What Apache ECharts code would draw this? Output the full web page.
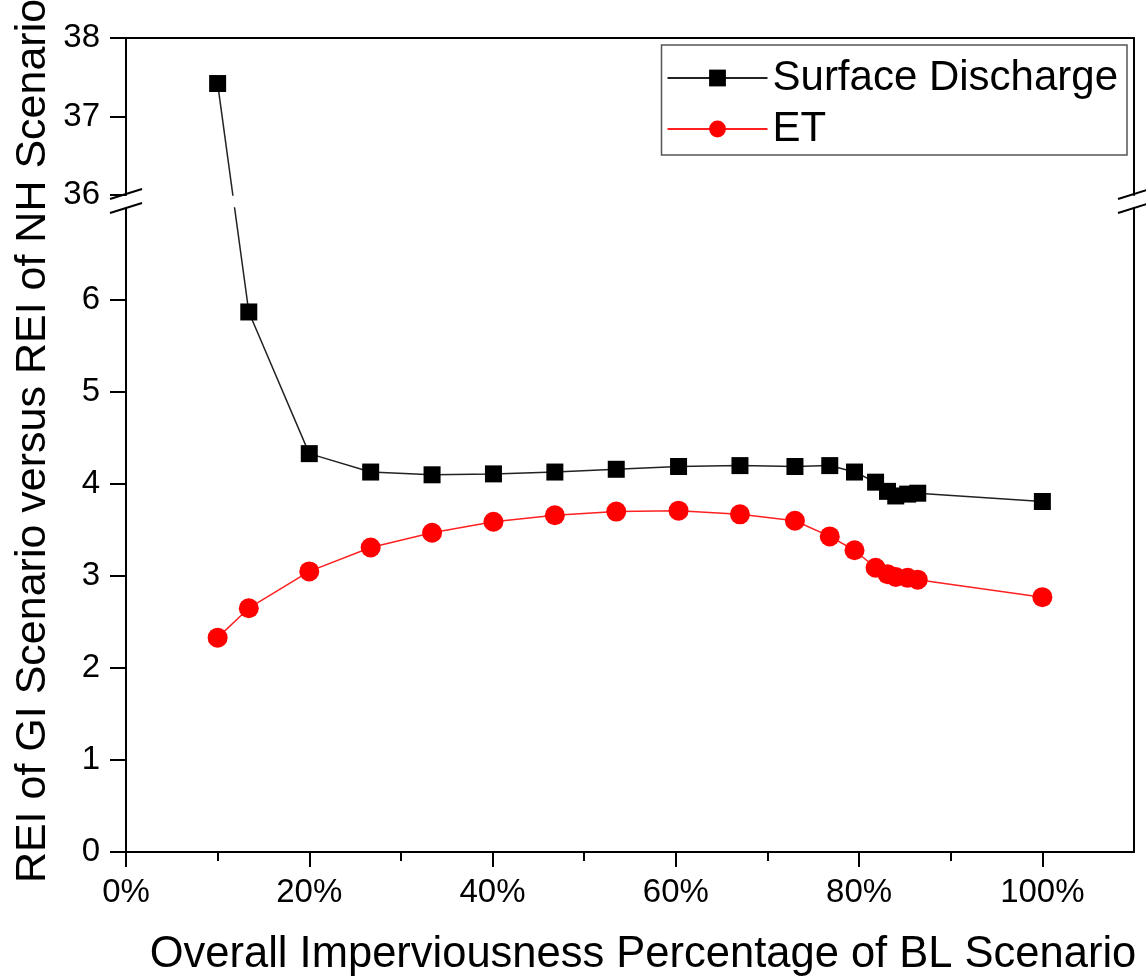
<!DOCTYPE html>
<html>
<head>
<meta charset="utf-8">
<script src="https://cdn.jsdelivr.net/npm/echarts@6/dist/echarts.min.js"></script>
<style>
  html, body { margin: 0; background: #fff; }
  #chart { width: 1146px; height: 979px; }
</style>
</head>
<body>
<div id="chart"></div>
<script>
// 数据
const xPct = [10, 13.4, 20, 26.7, 33.4, 40.1, 46.8, 53.5, 60.3, 67, 73, 76.8, 79.5, 81.8, 83.1, 84, 85.3, 86.4, 100];
const surfaceDischarge = [37.42, 5.87, 4.33, 4.13, 4.10, 4.11, 4.13, 4.16, 4.19, 4.20, 4.19, 4.20, 4.13, 4.02, 3.92, 3.87, 3.89, 3.90, 3.81];
const et = [2.33, 2.65, 3.05, 3.31, 3.47, 3.59, 3.66, 3.70, 3.71, 3.67, 3.60, 3.43, 3.28, 3.09, 3.02, 2.99, 2.98, 2.96, 2.77];

// 刻度
const xTicks = [0, 20, 40, 60, 80, 100];
const xMinorTicks = [10, 30, 50, 70, 90];
const yUpperTicks = [36, 37, 38];
const yLowerTicks = [0, 1, 2, 3, 4, 5, 6];

// 断轴范围
const breakLow = 7;
const breakHigh = 36;

const FONT = 'Arial, "Liberation Sans", sans-serif';

// 布局
const gLeft = 126, gRight = 12;
const upTop = 38, upHeight = 157;
const lowTop = 208, lowBottom = 127;
const W = 1146;

var myChart = echarts.init(document.getElementById('chart'));

// 断轴上下两段分开
const sdHigh = [], sdLow = [];
xPct.forEach((x, i) => {
    const v = surfaceDischarge[i];
    (v >= breakHigh ? sdHigh : sdLow).push([x, v]);
});
const etData = xPct.map((x, i) => [x, et[i]]);

function frameAxis(extra) {
    return Object.assign({
        type: 'value',
        axisLine: { show: true, onZero: false, lineStyle: { color: '#000', width: 2 } },
        axisTick: { show: false },
        axisLabel: { show: false },
        splitLine: { show: false }
    }, extra);
}

// 断轴符号
function breakMark(x, y) {
    return {
        type: 'line',
        shape: { x1: x - 16, y1: y + 5, x2: x + 16, y2: y - 5 },
        style: { stroke: '#000', lineWidth: 2 },
        silent: true
    };
}

const labelStyle = { fontSize: 33, color: '#000', fontFamily: FONT };

const option = {
    backgroundColor: '#fff',
    animation: false,
    textStyle: { fontFamily: FONT },
    grid: [
        { left: gLeft, right: gRight, top: upTop, height: upHeight },
        { left: gLeft, right: gRight, top: lowTop, bottom: lowBottom }
    ],
    legend: {
        data: ['Surface Discharge', 'ET'],
        orient: 'vertical',
        right: 19,
        top: 45,
        itemWidth: 100,
        itemHeight: 21,
        itemGap: 9,
        padding: [12, 9, 5, 5],
        borderColor: '#555',
        borderWidth: 1.5,
        textStyle: { fontSize: 42, color: '#000', fontFamily: FONT }
    },
    xAxis: [
        // 上段顶边框
        frameAxis({ gridIndex: 0, position: 'top', min: 0, max: 110 }),
        // 下段主刻度
        {
            type: 'value', gridIndex: 1, position: 'bottom', min: 0, max: 110,
            axisLine: { show: true, onZero: false, lineStyle: { color: '#000', width: 2 } },
            axisTick: { show: true, length: 15, customValues: xTicks, lineStyle: { color: '#000', width: 2 } },
            axisLabel: { customValues: xTicks, formatter: '{value}%', margin: 24, ...labelStyle },
            splitLine: { show: false }
        },
        // 次刻度
        {
            type: 'value', gridIndex: 1, position: 'bottom', min: 0, max: 110,
            axisLine: { show: false, onZero: false },
            axisTick: { show: true, length: 9, customValues: xMinorTicks, lineStyle: { color: '#000', width: 2 } },
            axisLabel: { show: false },
            splitLine: { show: false }
        }
    ],
    yAxis: [
        {
            type: 'value', gridIndex: 0, position: 'left', min: breakHigh, max: 38,
            axisLine: { show: true, onZero: false, lineStyle: { color: '#000', width: 2 } },
            axisTick: { show: true, length: 16, customValues: yUpperTicks, lineStyle: { color: '#000', width: 2 } },
            axisLabel: { customValues: yUpperTicks, margin: 26, ...labelStyle },
            splitLine: { show: false }
        },
        frameAxis({ gridIndex: 0, position: 'right', min: breakHigh, max: 38 }),
        {
            type: 'value', gridIndex: 1, position: 'left', min: 0, max: breakLow,
            axisLine: { show: true, onZero: false, lineStyle: { color: '#000', width: 2 } },
            axisTick: { show: true, length: 16, customValues: yLowerTicks, lineStyle: { color: '#000', width: 2 } },
            axisLabel: { customValues: yLowerTicks, margin: 26, ...labelStyle },
            splitLine: { show: false }
        },
        frameAxis({ gridIndex: 1, position: 'right', min: 0, max: breakLow })
    ],
    graphic: [
        breakMark(gLeft, upTop + upHeight - 1),
        breakMark(gLeft, lowTop),
        breakMark(W - gRight, upTop + upHeight - 1),
        breakMark(W - gRight, lowTop),
        {
            type: 'text', x: 33, y: 441, rotation: Math.PI / 2, silent: true,
            style: {
                text: 'REI of GI Scenario versus REI of NH Scenario',
                font: '43px ' + FONT, fill: '#000',
                textAlign: 'center', textVerticalAlign: 'middle'
            }
        },
        {
            type: 'text', x: 643, y: 955, silent: true,
            style: {
                text: 'Overall Imperviousness Percentage of BL Scenario',
                font: '43.5px ' + FONT, fill: '#000',
                textAlign: 'center', textVerticalAlign: 'middle'
            }
        }
    ],
    series: [
        {
            name: 'Surface Discharge', type: 'line', xAxisIndex: 0, yAxisIndex: 0,
            data: sdHigh, symbol: 'rect', symbolSize: 17, clip: true,
            itemStyle: { color: '#000' }, lineStyle: { color: '#222', width: 1.5 }
        },
        {
            name: 'Surface Discharge', type: 'line', xAxisIndex: 1, yAxisIndex: 2,
            data: sdLow, symbol: 'rect', symbolSize: 17, clip: true,
            itemStyle: { color: '#000' }, lineStyle: { color: '#222', width: 1.5 }
        },
        {
            name: 'ET', type: 'line', xAxisIndex: 1, yAxisIndex: 2,
            data: etData, symbol: 'circle', symbolSize: 20, clip: true,
            itemStyle: { color: '#ff0000' }, lineStyle: { color: '#ff2020', width: 1.5 }
        }
    ]
};

myChart.setOption(option);

// 跨断轴的连线：用两段坐标系互相换算，让线在像素空间里保持直线
const lastHigh = sdHigh[sdHigh.length - 1];
const firstLow = sdLow[0];
const pHigh = myChart.convertToPixel({ seriesIndex: 0 }, lastHigh);
const pLow = myChart.convertToPixel({ seriesIndex: 1 }, firstLow);
const lowInUpper = myChart.convertFromPixel({ seriesIndex: 0 }, pLow);
const highInLower = myChart.convertFromPixel({ seriesIndex: 1 }, pHigh);

myChart.setOption({
    series: [
        { data: sdHigh.concat([{ value: lowInUpper, symbol: 'none' }]) },
        { data: [{ value: highInLower, symbol: 'none' }].concat(sdLow) },
        {}
    ]
});
</script>
</body>
</html>
